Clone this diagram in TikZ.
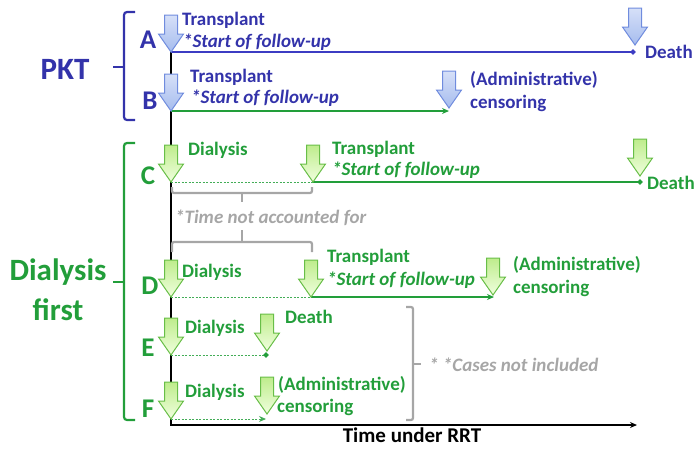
\documentclass[tikz,border=0pt]{standalone}
\usepackage{fontspec}
\setmainfont{Carlito}
\usetikzlibrary{arrows.meta,shapes.geometric}

\definecolor{pktblue}{RGB}{51,51,170}
\definecolor{pktline}{RGB}{60,60,195}
\definecolor{dialgreen}{RGB}{34,158,58}
\definecolor{notegray}{RGB}{166,166,166}
\definecolor{blueedge}{RGB}{112,140,222}
\definecolor{bluetop}{RGB}{214,224,248}
\definecolor{bluebot}{RGB}{166,188,238}
\definecolor{greenedge}{RGB}{104,190,72}
\definecolor{greentop}{RGB}{190,236,140}
\definecolor{greenbot}{RGB}{240,255,222}

\tikzset{
  evarrow/.pic={
    \path[pic actions] (0,0) -- (-12.5,-18) -- (-6.5,-18) -- (-6.5,-37)
      -- (6.5,-37) -- (6.5,-18) -- (12.5,-18) -- cycle;
  },
  bluearrow/.style={draw=blueedge, line width=1pt, top color=bluetop, bottom color=bluebot},
  greenarrow/.style={draw=greenedge, line width=1pt, top color=greentop, bottom color=greenbot},
  evlabel/.style={font=\bfseries\fontsize{19}{22}\selectfont, inner sep=0pt, anchor=base west},
  fuplabel/.style={evlabel, font=\bfseries\itshape\fontsize{19}{22}\selectfont},
  rowletter/.style={font=\bfseries\fontsize{27}{30}\selectfont, inner sep=0pt, anchor=base},
  grouplabel/.style={font=\bfseries\fontsize{31}{40}\selectfont, inner sep=0pt, align=center},
  enddiamond/.style={diamond, fill, inner sep=0pt, minimum size=6pt},
  tip/.style={-{Stealth[length=7pt,width=6pt]}},
  followup/.style={line width=2pt},
  untracked/.style={line width=0.9pt, dash pattern=on 2pt off 1.5pt},
  graybracket/.style={notegray, line width=2.2pt, rounded corners=2pt},
}

\begin{document}
\begin{tikzpicture}[x=1pt,y=-1pt]
\useasboundingbox (0,0) rectangle (697,448);
% event points
\coordinate (A0) at (171,52);  \coordinate (A1) at (633,52);
\coordinate (B0) at (171,111); \coordinate (B1) at (449,111);
\coordinate (C0) at (171,182); \coordinate (C1) at (313,182); \coordinate (C2) at (640,182);
\coordinate (D0) at (171,297); \coordinate (D1) at (311,297); \coordinate (D2) at (494,297);
\coordinate (E0) at (171,355); \coordinate (E1) at (266,355);
\coordinate (F0) at (171,419); \coordinate (F1) at (266,419);
\coordinate (orig) at (171,425); \coordinate (tend) at (637,425);

% time axis
\draw[line width=2pt, tip] (A0) -- (orig) -- (tend);
\node[font=\bfseries\fontsize{21}{24}\selectfont, inner sep=0pt, anchor=base] (axislab) at (412,442) {Time under RRT};

% PKT group
\draw[pktblue, line width=2.2pt, rounded corners=3pt] (135,12) -- (124,12) -- (124,120) -- (135,120);
\draw[pktblue, line width=2.2pt, rounded corners=3pt] (113,67) -- (124,67);
\node[grouplabel, pktblue, anchor=base] (pkt) at (65,79) {PKT};

\draw[pktline, followup] (A0) -- (A1);
\node[enddiamond, pktline] (dA) at (A1) {};
\draw[dialgreen, followup, tip] (B0) -- (B1);

\pic[bluearrow] at (A0) {evarrow};
\pic[bluearrow] at (635,45) {evarrow};
\pic[bluearrow] at (B0) {evarrow};
\pic[bluearrow] at (449,108) {evarrow};

\node[rowletter, pktblue] (rowA) at (148,48) {A};
\node[evlabel, pktblue] (trA) at (182,25) {Transplant};
\node[fuplabel, pktblue] (fuA) at (183,47) {*Start of follow-up};
\node[evlabel, pktblue] (deA) at (645,58) {Death};
\node[rowletter, pktblue] (rowB) at (150,109) {B};
\node[evlabel, pktblue] (trB) at (190,82) {Transplant};
\node[fuplabel, pktblue] (fuB) at (191,103) {*Start of follow-up};
\node[evlabel, pktblue] (adB) at (470,85) {(Administrative)};
\node[evlabel, pktblue] (ceB) at (470,108) {censoring};

% dialysis-first group
\draw[dialgreen, line width=2.2pt, rounded corners=3pt] (135,143) -- (124,143) -- (124,420) -- (135,420);
\draw[dialgreen, line width=2.2pt, rounded corners=3pt] (113,282) -- (124,282);
\node[grouplabel, dialgreen] (dial) at (58,290) {Dialysis\\first};

\draw[dialgreen!85, untracked] (C0) -- (C1);
\draw[dialgreen, followup] (C1) -- (C2);
\node[enddiamond, dialgreen] (dC) at (C2) {};
\draw[dialgreen!85, untracked] (D0) -- (D1);
\draw[dialgreen, followup, tip] (D1) -- (D2);
\draw[dialgreen!85, untracked] (E0) -- (E1);
\node[enddiamond, dialgreen] (dE) at (E1) {};
\draw[dialgreen!85, untracked, tip] (F0) -- (F1);

\pic[greenarrow] at (C0) {evarrow};
\pic[greenarrow] at (C1) {evarrow};
\pic[greenarrow] at (640,176) {evarrow};
\pic[greenarrow] at (D0) {evarrow};
\pic[greenarrow] at (D1) {evarrow};
\pic[greenarrow] at (493,295) {evarrow};
\pic[greenarrow] at (E0) {evarrow};
\pic[greenarrow] at (267,351) {evarrow};
\pic[greenarrow] at (F0) {evarrow};
\pic[greenarrow] at (267,414) {evarrow};

\node[rowletter, dialgreen] (rowC) at (148,184) {C};
\node[evlabel, dialgreen] (diC) at (188,155) {Dialysis};
\node[evlabel, dialgreen] (trC) at (332,154) {Transplant};
\node[fuplabel, dialgreen] (fuC) at (332,175) {*Start of follow-up};
\node[evlabel, dialgreen] (deC) at (647,189) {Death};

\node[rowletter, dialgreen] (rowD) at (150,294) {D};
\node[evlabel, dialgreen] (diD) at (182,277) {Dialysis};
\node[evlabel, dialgreen] (trD) at (327,262) {Transplant};
\node[fuplabel, dialgreen] (fuD) at (327,285) {*Start of follow-up};
\node[evlabel, dialgreen] (adD) at (513,270) {(Administrative)};
\node[evlabel, dialgreen] (ceD) at (513,293) {censoring};

\node[rowletter, dialgreen] (rowE) at (148,356) {E};
\node[evlabel, dialgreen] (diE) at (185,333) {Dialysis};
\node[evlabel, dialgreen] (deE) at (285,323) {Death};

\node[rowletter, dialgreen] (rowF) at (148,417) {F};
\node[evlabel, dialgreen] (diF) at (185,397) {Dialysis};
\node[evlabel, dialgreen] (adF) at (278,390) {(Administrative)};
\node[evlabel, dialgreen] (ceF) at (277,412) {censoring};

% notes
\draw[graybracket] (172,187) -- (172,193) -- (312,193) -- (312,187);
\draw[graybracket] (242,193) -- (242,202);
\node[fuplabel, notegray] (gap) at (175,223) {*Time not accounted for};
\draw[graybracket] (242,230) -- (242,242);
\draw[graybracket] (172,252) -- (172,242) -- (312,242) -- (312,252);
\draw[graybracket] (406,307) -- (413,307) -- (413,420) -- (406,420);
\draw[graybracket] (413,364) -- (421,364);
\node[fuplabel, notegray] (excl) at (429,371) {* *Cases not included};
\end{tikzpicture}
\end{document}
